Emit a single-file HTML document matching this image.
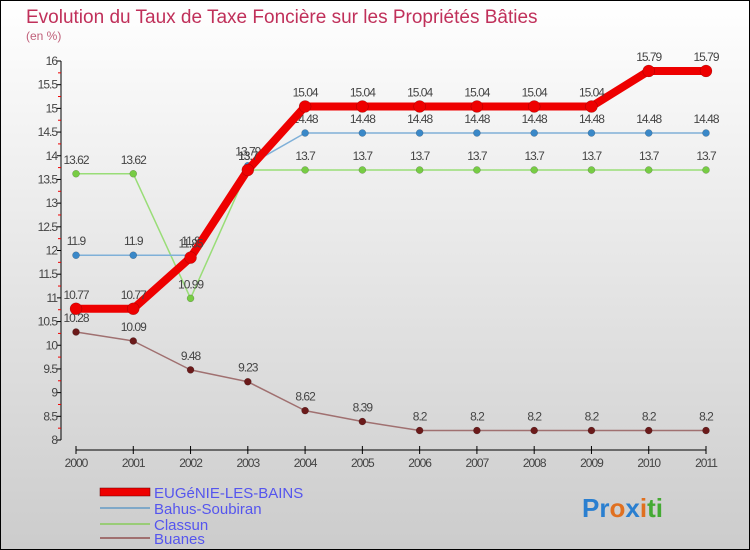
<!DOCTYPE html>
<html><head><meta charset="utf-8"><style>
body{margin:0}
#c{width:750px;height:550px;position:relative;overflow:hidden}
svg text{font-family:"Liberation Sans",sans-serif}
</style></head><body>
<div id="c">
<svg id="s" width="750" height="550" xmlns="http://www.w3.org/2000/svg">
<defs><linearGradient id="bg" x1="0" y1="0" x2="0" y2="1"><stop offset="0" stop-color="#ffffff"/><stop offset="1" stop-color="#cccccc"/></linearGradient></defs>
<rect x="0.5" y="0.5" width="749" height="549" fill="url(#bg)" stroke="#000"/>
<text x="26" y="23" font-size="19" fill="#c0305a">Evolution du Taux de Taxe Foncière sur les Propriétés Bâties</text>
<text x="26" y="40" font-size="12" fill="#c0607a">(en %)</text>
<g id="axes"></g><g id="series"></g>
<g>
<rect x="100" y="488" width="50" height="8" fill="#e00" stroke="#600" stroke-width="0.5"/>
<text x="154" y="498" font-size="15" fill="#5555ee">EUGéNIE-LES-BAINS</text>
<line x1="100" y1="508" x2="150" y2="508" stroke="#7fa8c8" stroke-width="2"/>
<text x="154" y="514" font-size="15" fill="#5555ee">Bahus-Soubiran</text>
<line x1="100" y1="524" x2="150" y2="524" stroke="#99cc77" stroke-width="2"/>
<text x="154" y="530" font-size="15" fill="#5555ee">Classun</text>
<line x1="100" y1="538" x2="150" y2="538" stroke="#a07070" stroke-width="2"/>
<text x="154" y="544" font-size="15" fill="#5555ee">Buanes</text>
</g>
<text x="582" y="517" font-size="26" font-weight="bold"><tspan fill="#2a7fd0">Pr</tspan><tspan fill="#e07020">o</tspan><tspan fill="#2a7fd0">x</tspan><tspan fill="#e07020">i</tspan><tspan fill="#44aa33">ti</tspan></text>
</svg></div>
<script>
const years=[2000,2001,2002,2003,2004,2005,2006,2007,2008,2009,2010,2011];
const eugenie=[10.77,10.77,11.85,13.7,15.04,15.04,15.04,15.04,15.04,15.04,15.79,15.79];
const bahus=[11.9,11.9,11.9,13.79,14.48,14.48,14.48,14.48,14.48,14.48,14.48,14.48];
const classun=[13.62,13.62,10.99,13.7,13.7,13.7,13.7,13.7,13.7,13.7,13.7,13.7];
const buanes=[10.28,10.09,9.48,9.23,8.62,8.39,8.2,8.2,8.2,8.2,8.2,8.2];
const yTicks=[8,8.5,9,9.5,10,10.5,11,11.5,12,12.5,13,13.5,14,14.5,15,15.5,16];
const NS="http://www.w3.org/2000/svg";
function X(i){return 76+i*(630/11);}
function Y(v){return 440-(v-8)*47.375;}
function mk(t,a,p){const e=document.createElementNS(NS,t);for(const k in a)e.setAttribute(k,a[k]);p.appendChild(e);return e;}
const ax=document.getElementById('axes');
let yl=mk('line',{x1:61,y1:Y(16),x2:61,y2:Y(8),stroke:'#000'},ax);


let xl=mk('line',{x1:X(0),y1:450,x2:X(11),y2:450,stroke:'#000'},ax);


yTicks.forEach(v=>{
  mk('line',{x1:57,y1:Y(v),x2:61,y2:Y(v),stroke:'#000'},ax);
  mk('line',{x1:58,y1:Y(v+0.25),x2:61,y2:Y(v+0.25),stroke:v<16?'#e00':'none'},ax);
  const t=mk('text',{x:57,y:Y(v)+4,'font-size':12,fill:'#444','text-anchor':'end','letter-spacing':'-1'},ax);
  t.textContent=String(v);
  
  
});
years.forEach((y,i)=>{
  mk('line',{x1:X(i),y1:446,x2:X(i),y2:454,stroke:'#000'},ax);
  const t=mk('text',{x:X(i),y:467,'font-size':12,fill:'#444','text-anchor':'middle','letter-spacing':'-1'},ax);
  t.textContent=String(y);
  
  
});
const sg=document.getElementById('series');
function draw(vals,name,lc,pc,lw,r){
  const g=mk('g',{},sg);
  
  
  mk('polyline',{points:vals.map((v,i)=>X(i)+','+Y(v)).join(' '),fill:'none',stroke:lc,'stroke-width':lw,'stroke-linejoin':'round'},g);
  vals.forEach((v,i)=>{
    const c=mk('circle',{cx:X(i),cy:Y(v),r:r,fill:pc,stroke:'rgba(0,0,0,0.3)','stroke-width':0.5},g);
    
    
    const t=mk('text',{x:X(i),y:Y(v)-10,'font-size':12,fill:'#444','text-anchor':'middle','letter-spacing':'-1'},g);
    t.textContent=String(v);
  });
}
draw(buanes,'buanes','#a07070','#6b1a1a',1.5,3.5);
draw(classun,'classun','#99dd77','#77cc44',1.5,3.5);
draw(bahus,'bahus','#7fb0d8','#3a88c8',1.5,3.5);
draw(eugenie,'eugenie','#ee0000','#ee0000',8,6);
</script>
</body></html>
